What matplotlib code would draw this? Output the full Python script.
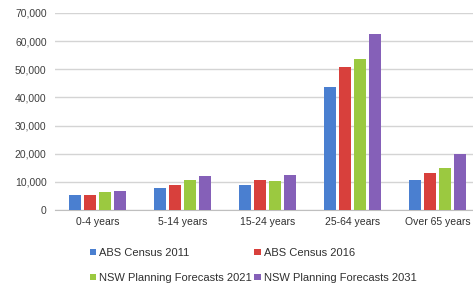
import matplotlib
matplotlib.use("Agg")
import matplotlib.pyplot as plt
import numpy as np

categories = ["0-4 years", "5-14 years", "15-24 years", "25-64 years", "Over 65 years"]
series_names = ["ABS Census 2011", "ABS Census 2016",
                "NSW Planning Forecasts 2021", "NSW Planning Forecasts 2031"]
abs_2011 = [5200, 7900, 8900, 43600, 10600]
abs_2016 = [5300, 8900, 10600, 50700, 13100]
nsw_2021 = [6500, 10600, 10200, 53800, 14800]
nsw_2031 = [6900, 12100, 12600, 62500, 20000]
yticks = [0, 10000, 20000, 30000, 40000, 50000, 60000, 70000]

colors = ["#4a7fd0", "#d8403c", "#9bc940", "#8560b8"]

plt.rcParams['font.family'] = ['Liberation Sans', 'DejaVu Sans']

fig = plt.figure(figsize=(4.73, 2.86), dpi=100)
ax = fig.add_axes([55 / 473, (286 - 210) / 286, 425 / 473, (210 - 13) / 286])

x = np.arange(len(categories))
pitch = 0.177
width = 0.142
handles = []
for i, (vals, name) in enumerate(zip([abs_2011, abs_2016, nsw_2021, nsw_2031], series_names)):
    b = ax.bar(x + (i - 1.5) * pitch, vals, width=width, color=colors[i], label=name, zorder=3)
    handles.append(b)

ax.set_xlim(-0.5, 4.5)
ax.set_ylim(0, 70000)
ax.set_yticks(yticks)
ax.set_yticklabels([f"{v:,}" for v in yticks], fontsize=7.5, color="#404040")
ax.set_xticks(x)
ax.set_xticklabels(categories, fontsize=7.5, color="#303030")
ax.tick_params(axis='both', length=0, pad=5)
ax.tick_params(axis='y', pad=6)
ax.grid(axis='y', color="#d4d4d4", linewidth=1, zorder=0)
for s in ["top", "right", "left"]:
    ax.spines[s].set_visible(False)
ax.spines["bottom"].set_color("#bfbfbf")

order = [0, 2, 1, 3]
leg = fig.legend([handles[i] for i in order], [series_names[i] for i in order],
                 ncol=2, loc="upper left", bbox_to_anchor=(90 / 473, 1 - 248 / 286),
                 frameon=False, fontsize=8, handlelength=0.55, handleheight=0.55,
                 handletextpad=0.3, columnspacing=0.2, labelspacing=1.35,
                 borderaxespad=0, borderpad=0)
for t in leg.get_texts():
    t.set_color("#303030")

fig.savefig("out.png", dpi=100)
